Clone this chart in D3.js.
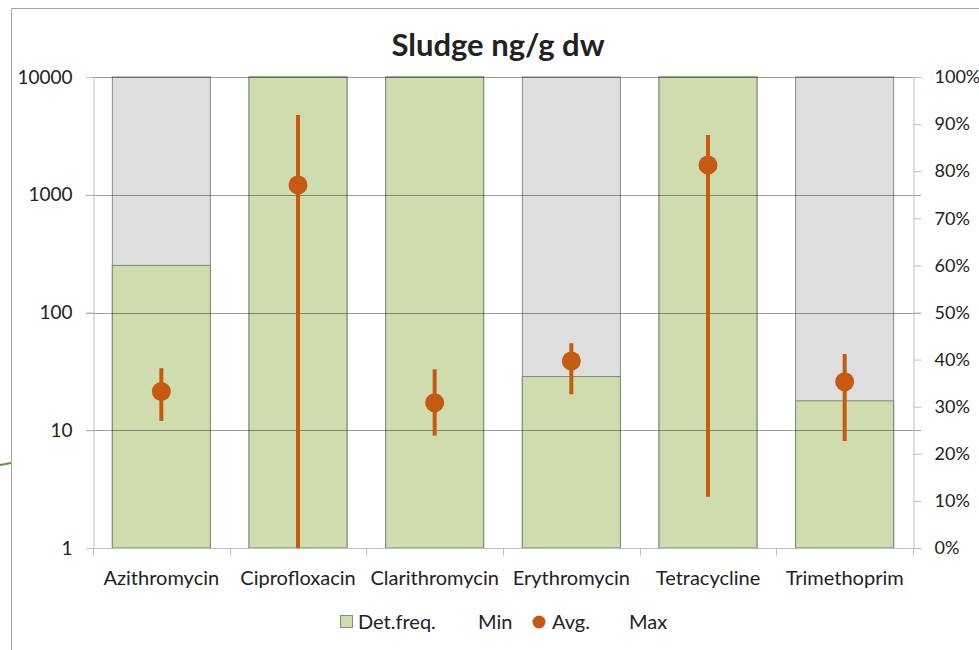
<!DOCTYPE html>
<html>
<head>
<meta charset="utf-8">
<script src="https://cdn.jsdelivr.net/npm/d3@7/dist/d3.min.js"></script>
<style>
  html, body { margin: 0; padding: 0; background: #fff; }
  svg { display: block; }
  text { font-family: Lato, "Open Sans", sans-serif; fill: #222; }
</style>
</head>
<body>
<svg id="chart" width="979" height="650"></svg>
<script>
const categories = ["Azithromycin", "Ciprofloxacin", "Clarithromycin", "Erythromycin", "Tetracycline", "Trimethoprim"];
const detFreq = [0.60, 1.00, 1.00, 0.364, 1.00, 0.3125];
const minVals = [12.0, 1.0, 9.0, 20.2, 2.73, 8.1];
const avgVals = [21.3, 1210, 17.1, 38.7, 1790, 25.8];
const maxVals = [33.6, 4760, 32.9, 54.8, 3215, 44.4];
const leftTicks = [1, 10, 100, 1000, 10000];
const rightTicks = [0, 0.1, 0.2, 0.3, 0.4, 0.5, 0.6, 0.7, 0.8, 0.9, 1.0];
const title = "Sludge ng/g dw";
const legendLabels = ["Det.freq.", "Min", "Avg.", "Max"];

const svg = d3.select("#chart");
const L = 93, R = 913, T = 77, B = 548;
const fsTick = 19, fsTickR = 18, fsCat = 20, fsLeg = 20;

// outer chart border (partial, as in screenshot)
svg.append("path").attr("d", "M11.5,650 V8.5 H979").attr("fill", "none").attr("stroke", "#a6a6a6").attr("stroke-width", 1);
svg.append("line").attr("x1", 0).attr("x2", 11).attr("y1", 465).attr("y2", 463).attr("stroke", "#5a9a3a").attr("stroke-width", 2);

const x = d3.scaleBand().domain(categories).range([L, R]).paddingInner(0.283).paddingOuter(0.1415);
const xc = d3.scaleBand().domain(categories).range([L, R]).padding(0);
const yL = d3.scaleLog().domain([1, 10000]).range([B, T]);
const yR = d3.scaleLinear().domain([0, 1]).range([B, T]);

// background (100%) bars
svg.append("g").selectAll("rect").data(categories).join("rect")
  .attr("x", d => x(d)).attr("width", x.bandwidth())
  .attr("y", yR(1)).attr("height", yR(0) - yR(1))
  .attr("fill", "#dedede").attr("stroke", "#8a8a8a").attr("stroke-width", 1);

// det freq bars
svg.append("g").selectAll("rect").data(categories).join("rect")
  .attr("x", d => x(d)).attr("width", x.bandwidth())
  .attr("y", (d, i) => yR(detFreq[i])).attr("height", (d, i) => yR(0) - yR(detFreq[i]))
  .attr("fill", "#cfddae").attr("stroke", "#7f8778").attr("stroke-width", 1);

// gridlines
svg.append("g").selectAll("line").data(leftTicks.slice(1)).join("line")
  .attr("x1", L - 7).attr("x2", R + 8)
  .attr("y1", d => Math.round(yL(d)) + 0.5).attr("y2", d => Math.round(yL(d)) + 0.5)
  .attr("stroke", "rgba(0,0,0,0.38)").attr("stroke-width", 1);

// left axis
const gL = svg.append("g").attr("transform", `translate(${L + 0.5},0)`)
  .call(d3.axisLeft(yL).tickValues(leftTicks).tickFormat(d3.format("d")).tickSize(7).tickPadding(14));
gL.selectAll("text").attr("font-size", fsTick).style("font-family", "Lato, sans-serif").attr("fill", "#222");
gL.selectAll("line, path").attr("stroke", "#bfbfbf");

// right axis
const gR = svg.append("g").attr("transform", `translate(${R + 0.5},0)`)
  .call(d3.axisRight(yR).tickValues(rightTicks).tickFormat(d3.format(".0%")).tickSize(8).tickPadding(13));
gR.selectAll("text").attr("font-size", fsTickR).style("font-family", "Lato, sans-serif").attr("fill", "#222");
gR.selectAll("line, path").attr("stroke", "#bfbfbf");

// bottom axis
const gB = svg.append("g").attr("transform", `translate(0,${B + 0.5})`);
gB.append("line").attr("x1", L).attr("x2", R).attr("stroke", "#bfbfbf");
gB.selectAll("line.tk").data(categories.concat(["__end"])).join("line").attr("class", "tk")
  .attr("x1", (d, i) => Math.round(L + i * xc.step()) + 0.5).attr("x2", (d, i) => Math.round(L + i * xc.step()) + 0.5)
  .attr("y1", 0).attr("y2", 7).attr("stroke", "#bfbfbf");
gB.selectAll("text").data(categories).join("text")
  .attr("x", d => xc(d) + xc.bandwidth() / 2).attr("y", 36)
  .attr("text-anchor", "middle").attr("font-size", fsCat).text(d => d);

// error bars
const orange = "#c55a11";
svg.append("g").selectAll("line").data(categories).join("line")
  .attr("x1", d => x(d) + x.bandwidth() / 2).attr("x2", d => x(d) + x.bandwidth() / 2)
  .attr("y1", (d, i) => yL(maxVals[i])).attr("y2", (d, i) => yL(minVals[i]))
  .attr("stroke", orange).attr("stroke-width", 4);
svg.append("g").selectAll("circle").data(categories).join("circle")
  .attr("cx", d => x(d) + x.bandwidth() / 2).attr("cy", (d, i) => yL(avgVals[i]))
  .attr("r", 9.5).attr("fill", orange);

// title
svg.append("text").attr("x", 498).attr("y", 56).attr("text-anchor", "middle")
  .attr("font-size", 31).attr("font-weight", "bold").text(title);

// legend
const lg = svg.append("g").attr("transform", "translate(0,622)");
lg.append("rect").attr("x", 340.5).attr("y", -6.5).attr("width", 12).attr("height", 12)
  .attr("fill", "#cfddae").attr("stroke", "#8a8a8a");
lg.append("text").attr("x", 358).attr("y", 7).attr("font-size", fsLeg).text(legendLabels[0]);
lg.append("text").attr("x", 478).attr("y", 7).attr("font-size", fsLeg).text(legendLabels[1]);
lg.append("circle").attr("cx", 539).attr("cy", 0).attr("r", 6.5).attr("fill", orange);
lg.append("text").attr("x", 552).attr("y", 7).attr("font-size", fsLeg).text(legendLabels[2]);
lg.append("text").attr("x", 629).attr("y", 7).attr("font-size", fsLeg).text(legendLabels[3]);
</script>
</body>
</html>
